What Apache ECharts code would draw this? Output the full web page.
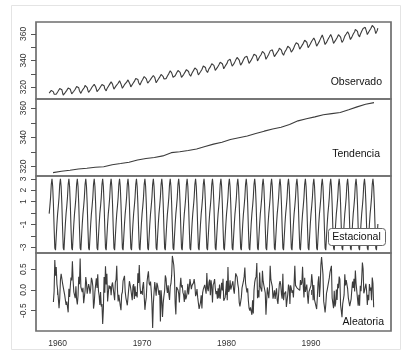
<!DOCTYPE html>
<html>
<head>
<meta charset="utf-8">
<script src="https://cdn.jsdelivr.net/npm/echarts@6/dist/echarts.min.js"></script>
<style>
  html, body { margin: 0; padding: 0; background: #fff; }
  #chart { width: 403px; height: 352px; }
</style>
</head>
<body>
<div id="chart"></div>
<script>
// ---- DATA (monthly, starting January 1959) ----
const startYear = 1959;
const monthsPerYear = 12;

const observed = [
315.42,316.31,316.50,317.56,318.13,318.00,316.39,314.65,313.68,313.18,314.66,315.43,
316.27,316.81,317.42,318.87,319.87,319.43,318.01,315.74,314.00,313.68,314.84,316.03,
316.73,317.54,318.38,319.31,320.42,319.61,318.42,316.63,314.83,315.16,315.94,316.85,
317.78,318.40,319.53,320.42,320.85,320.45,319.45,317.25,316.11,315.27,316.53,317.53,
318.58,318.92,319.70,321.22,322.08,321.31,319.58,317.61,316.05,315.83,316.91,318.20,
319.41,320.07,320.74,321.40,322.06,321.73,320.27,318.54,316.54,316.71,317.53,318.55,
319.27,320.28,320.73,321.97,322.00,321.71,321.05,318.71,317.66,317.14,318.70,319.25,
320.46,321.43,322.23,323.54,323.91,323.59,322.24,320.20,318.48,317.94,319.63,320.87,
322.17,322.34,322.88,324.25,324.83,323.93,322.38,320.76,319.10,319.24,320.56,321.80,
322.40,322.99,323.73,324.86,325.40,325.20,323.98,321.95,320.18,320.09,321.16,322.74,
323.83,324.26,325.47,326.50,327.21,326.54,325.72,323.50,322.22,321.62,322.69,323.95,
324.89,325.82,326.77,327.97,327.91,327.50,326.18,324.53,322.93,322.90,323.85,324.96,
326.01,326.51,327.01,327.62,328.76,328.40,327.20,325.27,323.20,323.40,324.63,325.85,
326.60,327.47,327.58,329.56,329.90,328.92,327.88,326.16,324.68,325.04,326.34,327.39,
328.37,329.40,330.14,331.33,332.31,331.90,330.70,329.15,327.35,327.02,327.99,328.48,
329.18,330.55,331.32,332.48,332.92,332.08,331.01,329.23,327.27,327.21,328.29,329.41,
330.23,331.25,331.87,333.14,333.80,333.43,331.73,329.90,328.40,328.17,329.32,330.59,
331.58,332.39,333.33,334.41,334.71,334.17,332.89,330.77,329.14,328.78,330.14,331.52,
332.75,333.24,334.53,335.90,336.57,336.10,334.76,332.59,331.42,330.98,332.24,333.68,
334.80,335.22,336.47,337.59,337.84,337.72,336.37,334.51,332.60,332.38,333.75,334.78,
336.05,336.59,337.79,338.71,339.30,339.12,337.56,335.92,333.75,333.70,335.12,336.56,
337.84,338.19,339.91,340.60,341.29,341.00,339.39,337.43,335.72,335.84,336.93,338.04,
339.06,340.30,341.21,342.33,342.74,342.08,340.32,338.26,336.52,336.68,338.19,339.44,
340.57,341.44,342.53,343.39,343.96,343.18,341.88,339.65,337.81,337.69,339.09,340.32,
341.20,342.35,342.93,344.77,345.58,345.14,343.81,342.21,339.69,339.82,340.98,342.82,
343.52,344.33,345.11,346.88,347.25,346.62,345.22,343.11,340.90,341.18,342.80,344.04,
344.79,345.82,347.25,348.17,348.74,348.07,346.38,344.51,342.92,342.62,344.06,345.38,
346.11,346.78,347.68,349.37,350.03,349.37,347.76,345.73,344.68,343.99,345.48,346.72,
347.84,348.29,349.23,350.80,351.66,351.07,349.33,347.92,346.27,346.18,347.64,348.78,
350.25,351.54,352.05,353.41,354.04,353.62,352.22,350.27,348.55,348.72,349.91,351.18,
352.60,352.92,353.53,355.26,355.52,354.97,353.75,351.52,349.64,349.83,351.14,352.37,
353.50,354.55,355.23,356.04,357.00,356.07,354.67,352.76,350.82,351.04,352.69,354.07,
354.59,355.63,357.03,358.48,359.22,358.12,356.06,353.92,352.05,352.11,353.64,354.89,
355.88,356.63,357.72,359.07,359.58,359.17,356.94,354.92,352.94,353.23,354.09,355.33,
356.63,357.10,358.32,359.41,360.23,359.55,357.53,355.48,353.67,353.95,355.30,356.78,
358.34,358.89,359.95,361.25,361.67,360.94,359.55,357.49,355.84,356.00,357.59,359.05,
359.98,361.03,361.66,363.48,363.82,363.30,361.94,359.50,358.11,357.80,359.61,360.74,
362.09,363.29,364.06,364.76,365.45,365.01,363.70,361.54,359.51,359.65,360.80,362.38,
363.23,364.06,364.61,366.40,366.84,365.68,364.52,362.57,360.24,360.83,362.49,364.34
];

// trend: one value per year (centred in mid-year)
const trendYears = [1959,1960,1961,1962,1963,1964,1965,1966,1967,1968,1969,1970,1971,1972,1973,1974,1975,1976,1977,1978,
                    1979,1980,1981,1982,1983,1984,1985,1986,1987,1988,1989,1990,1991,1992,1993,1994,1995,1996,1997];
const trendValues = [315.83,316.75,317.49,318.30,318.83,319.46,319.87,321.21,322.02,322.89,324.46,325.52,326.16,327.29,
                     329.51,330.08,330.99,331.99,333.73,335.34,336.68,338.52,339.76,340.96,342.61,344.25,345.73,346.98,
                     348.75,351.31,352.75,354.04,355.48,356.29,357.00,358.88,360.91,362.69,363.82];

const seasonal = [
-0.05,0.61,1.38,2.52,3.00,2.33,0.81,-1.26,-3.06,-3.25,-2.07,-0.96,
-0.05,0.61,1.38,2.52,3.00,2.33,0.81,-1.26,-3.06,-3.25,-2.07,-0.96,
-0.05,0.61,1.38,2.52,3.00,2.33,0.81,-1.26,-3.06,-3.25,-2.07,-0.96,
-0.05,0.61,1.38,2.52,3.00,2.33,0.81,-1.26,-3.06,-3.25,-2.07,-0.96,
-0.05,0.61,1.38,2.52,3.00,2.33,0.81,-1.26,-3.06,-3.25,-2.07,-0.96,
-0.05,0.61,1.38,2.52,3.00,2.33,0.81,-1.26,-3.06,-3.25,-2.07,-0.96,
-0.05,0.61,1.38,2.52,3.00,2.33,0.81,-1.26,-3.06,-3.25,-2.07,-0.96,
-0.05,0.61,1.38,2.52,3.00,2.33,0.81,-1.26,-3.06,-3.25,-2.07,-0.96,
-0.05,0.61,1.38,2.52,3.00,2.33,0.81,-1.26,-3.06,-3.25,-2.07,-0.96,
-0.05,0.61,1.38,2.52,3.00,2.33,0.81,-1.26,-3.06,-3.25,-2.07,-0.96,
-0.05,0.61,1.38,2.52,3.00,2.33,0.81,-1.26,-3.06,-3.25,-2.07,-0.96,
-0.05,0.61,1.38,2.52,3.00,2.33,0.81,-1.26,-3.06,-3.25,-2.07,-0.96,
-0.05,0.61,1.38,2.52,3.00,2.33,0.81,-1.26,-3.06,-3.25,-2.07,-0.96,
-0.05,0.61,1.38,2.52,3.00,2.33,0.81,-1.26,-3.06,-3.25,-2.07,-0.96,
-0.05,0.61,1.38,2.52,3.00,2.33,0.81,-1.26,-3.06,-3.25,-2.07,-0.96,
-0.05,0.61,1.38,2.52,3.00,2.33,0.81,-1.26,-3.06,-3.25,-2.07,-0.96,
-0.05,0.61,1.38,2.52,3.00,2.33,0.81,-1.26,-3.06,-3.25,-2.07,-0.96,
-0.05,0.61,1.38,2.52,3.00,2.33,0.81,-1.26,-3.06,-3.25,-2.07,-0.96,
-0.05,0.61,1.38,2.52,3.00,2.33,0.81,-1.26,-3.06,-3.25,-2.07,-0.96,
-0.05,0.61,1.38,2.52,3.00,2.33,0.81,-1.26,-3.06,-3.25,-2.07,-0.96,
-0.05,0.61,1.38,2.52,3.00,2.33,0.81,-1.26,-3.06,-3.25,-2.07,-0.96,
-0.05,0.61,1.38,2.52,3.00,2.33,0.81,-1.26,-3.06,-3.25,-2.07,-0.96,
-0.05,0.61,1.38,2.52,3.00,2.33,0.81,-1.26,-3.06,-3.25,-2.07,-0.96,
-0.05,0.61,1.38,2.52,3.00,2.33,0.81,-1.26,-3.06,-3.25,-2.07,-0.96,
-0.05,0.61,1.38,2.52,3.00,2.33,0.81,-1.26,-3.06,-3.25,-2.07,-0.96,
-0.05,0.61,1.38,2.52,3.00,2.33,0.81,-1.26,-3.06,-3.25,-2.07,-0.96,
-0.05,0.61,1.38,2.52,3.00,2.33,0.81,-1.26,-3.06,-3.25,-2.07,-0.96,
-0.05,0.61,1.38,2.52,3.00,2.33,0.81,-1.26,-3.06,-3.25,-2.07,-0.96,
-0.05,0.61,1.38,2.52,3.00,2.33,0.81,-1.26,-3.06,-3.25,-2.07,-0.96,
-0.05,0.61,1.38,2.52,3.00,2.33,0.81,-1.26,-3.06,-3.25,-2.07,-0.96,
-0.05,0.61,1.38,2.52,3.00,2.33,0.81,-1.26,-3.06,-3.25,-2.07,-0.96,
-0.05,0.61,1.38,2.52,3.00,2.33,0.81,-1.26,-3.06,-3.25,-2.07,-0.96,
-0.05,0.61,1.38,2.52,3.00,2.33,0.81,-1.26,-3.06,-3.25,-2.07,-0.96,
-0.05,0.61,1.38,2.52,3.00,2.33,0.81,-1.26,-3.06,-3.25,-2.07,-0.96,
-0.05,0.61,1.38,2.52,3.00,2.33,0.81,-1.26,-3.06,-3.25,-2.07,-0.96,
-0.05,0.61,1.38,2.52,3.00,2.33,0.81,-1.26,-3.06,-3.25,-2.07,-0.96,
-0.05,0.61,1.38,2.52,3.00,2.33,0.81,-1.26,-3.06,-3.25,-2.07,-0.96,
-0.05,0.61,1.38,2.52,3.00,2.33,0.81,-1.26,-3.06,-3.25,-2.07,-0.96,
-0.05,0.61,1.38,2.52,3.00,2.33,0.81,-1.26,-3.06,-3.25,-2.07,-0.96
];

const random = [
null,null,null,null,null,null,-0.29,-0.04,0.72,0.34,0.55,0.14,
0.00,-0.20,-0.44,-0.20,0.24,0.39,0.42,0.16,0.15,-0.03,-0.12,-0.10,
-0.36,-0.28,-0.27,-0.54,0.03,-0.17,0.09,0.30,0.23,0.69,0.22,-0.05,
-0.09,-0.20,0.09,-0.23,-0.35,-0.14,0.32,0.14,0.76,0.07,0.10,-0.05,
0.05,-0.32,-0.35,-0.02,0.31,0.17,-0.09,-0.05,0.14,0.07,-0.09,0.04,
0.29,0.23,0.09,-0.45,-0.32,-0.04,-0.02,0.28,0.05,0.38,-0.02,-0.14,
-0.36,-0.05,-0.40,-0.34,-0.82,-0.47,0.31,-0.07,0.57,0.13,0.39,-0.28,
-0.08,0.11,0.03,0.09,-0.13,0.11,0.18,0.15,0.16,-0.25,0.18,0.25,
0.58,0.01,-0.28,-0.12,-0.09,-0.38,-0.49,-0.11,-0.05,0.22,0.28,0.34,
-0.04,-0.19,-0.28,-0.37,-0.38,0.02,0.21,0.12,0.02,-0.01,-0.25,0.09,
0.14,-0.22,0.09,-0.15,-0.05,-0.18,0.40,0.17,0.60,0.10,-0.10,-0.03,
-0.09,0.09,0.19,0.16,-0.48,-0.30,-0.18,0.19,0.34,0.45,0.16,0.11,
0.20,-0.02,-0.34,-0.92,-0.32,-0.06,0.19,0.23,-0.14,0.17,0.11,0.13,
-0.12,-0.01,-0.76,-0.01,-0.25,-0.65,-0.32,-0.15,-0.02,0.35,0.28,0.04,
-0.07,0.11,-0.10,-0.24,0.08,0.15,0.35,0.82,0.78,0.60,0.33,-0.33,
-0.59,0.07,0.03,0.00,-0.09,-0.30,0.08,0.29,0.06,0.12,-0.06,-0.12,
-0.29,-0.01,-0.23,-0.17,-0.07,0.15,-0.11,0.05,0.26,0.14,0.02,0.11,
0.11,0.17,0.26,0.12,-0.15,-0.10,0.02,-0.18,-0.15,-0.46,-0.44,-0.30,
-0.13,-0.45,-0.07,0.02,0.06,0.12,0.15,-0.09,0.41,0.03,-0.03,0.18,
0.25,-0.13,0.23,0.07,-0.30,0.12,0.17,0.26,0.04,-0.10,-0.03,-0.21,
0.04,-0.20,0.13,-0.21,-0.21,0.17,-0.01,0.27,-0.26,-0.26,-0.18,0.00,
0.22,-0.25,0.55,-0.05,0.00,0.23,0.01,0.02,0.00,0.21,0.01,-0.09,
-0.08,0.40,0.44,0.31,0.14,0.04,-0.30,-0.40,-0.44,-0.18,0.05,0.09,
0.21,0.32,0.54,0.16,0.15,-0.06,0.04,-0.26,-0.44,-0.50,-0.42,-0.43,
-0.60,-0.25,-0.57,-0.01,0.18,0.27,0.32,0.65,-0.20,-0.01,-0.18,0.42,
0.08,0.09,-0.04,0.46,0.21,0.11,0.10,-0.07,-0.60,-0.25,0.06,0.08,
-0.20,0.04,0.58,0.24,0.20,0.08,-0.21,-0.12,-0.01,-0.22,-0.07,0.04,
-0.24,-0.34,-0.31,0.14,0.21,0.12,-0.10,-0.21,0.39,-0.25,-0.10,-0.11,
-0.04,-0.41,-0.38,-0.10,0.13,0.07,-0.34,0.11,0.04,-0.07,-0.01,-0.18,
0.17,0.58,0.11,0.11,0.05,0.09,0.03,0.03,-0.01,0.24,0.12,0.17,
0.56,0.10,-0.18,0.29,-0.05,-0.05,0.13,-0.14,-0.33,-0.05,-0.03,-0.01,
0.11,0.38,0.19,-0.25,0.12,-0.24,-0.24,-0.20,-0.46,-0.17,0.18,0.33,
-0.17,0.08,0.60,0.79,0.80,0.37,-0.27,-0.40,-0.54,-0.35,-0.08,0.00,
0.02,0.03,0.29,0.43,0.39,0.58,-0.19,-0.20,-0.44,-0.02,-0.40,-0.32,
0.01,-0.24,0.15,0.04,0.32,0.26,-0.36,-0.50,-0.66,-0.34,-0.34,-0.12,
0.38,0.11,0.24,0.25,0.03,-0.19,-0.23,-0.39,-0.41,-0.22,0.01,0.20,
0.05,0.27,-0.04,0.47,0.16,0.14,0.14,-0.38,-0.12,-0.38,0.10,-0.03,
0.27,0.66,0.51,-0.08,-0.02,0.07,0.15,-0.03,-0.36,-0.12,-0.25,0.14,
-0.02,0.06,-0.25,0.30,0.16,-0.42,null,null,null,null,null,null
];

const panelNames = ['Observado', 'Tendencia', 'Estacional', 'Aleatoria'];
const xTickYears = [1960, 1970, 1980, 1990];
const yTicks = [[320,330,340,350,360],[320,330,340,350,360],[-3,-2,-1,0,1,2,3],[-0.5,0,0.5]];
const yLabels = [[320,340,360],[320,340,360],[-3,-1,1,2,3],[-0.5,0,0.5]];
const yRanges = [[311.03,368.99],[313.5,366.3],[-3.50,3.25],[-0.99,0.89]];
const xRange = [1957.44, 1999.47];

// ---- build ----
const monthly = arr => arr.map((v, i) => [startYear + i / monthsPerYear, v]);
const trendData = trendValues.map((v, i) => [trendYears[i] + 5.5 / monthsPerYear, v]);
const seriesData = [monthly(observed), trendData, monthly(seasonal), monthly(random)];

const FONT = 'Liberation Sans, Arial, sans-serif';
const tops = [22, 99, 176, 253];
const heights = [77, 77, 77, 78];

const grids = tops.map((t, i) => ({
  left: 36, right: 12, top: t, height: heights[i],
  show: true, borderColor: '#6e6e6e', borderWidth: 1.7, backgroundColor: 'transparent'
}));

const xAxes = tops.map((t, i) => {
  const last = i === 3;
  return {
    type: 'value', gridIndex: i, min: xRange[0], max: xRange[1],
    axisLine: { show: false }, splitLine: { show: false },
    axisTick: { show: last, length: 5, lineStyle: { color: '#555' }, customValues: xTickYears },
    axisLabel: { show: last, fontSize: 8.5, color: '#333', fontFamily: FONT, margin: 8,
                 customValues: xTickYears, formatter: v => String(v) }
  };
});

const fmt = [v => String(v), v => String(v), v => String(v), v => v.toFixed(1)];
const yAxes = tops.map((t, i) => ({
  type: 'value', gridIndex: i, min: yRanges[i][0], max: yRanges[i][1],
  axisLine: { show: false }, splitLine: { show: false },
  axisTick: { show: true, length: 5, lineStyle: { color: '#555' }, customValues: yTicks[i] },
  axisLabel: { show: true, rotate: 90, fontSize: 8.5, color: '#333', fontFamily: FONT, margin: 8,
               customValues: yLabels[i], formatter: fmt[i] }
}));

const series = seriesData.map((d, i) => ({
  type: 'line', xAxisIndex: i, yAxisIndex: i, data: d,
  showSymbol: false, symbol: 'none', connectNulls: false, clip: true,
  lineStyle: { color: '#3c3c3c', width: 1.1 }, animation: false, silent: true
}));

const textStyleBase = { fontSize: 10.5, fontFamily: FONT, fill: '#111' };
const graphic = [
  { type: 'rect', shape: { x: 11.5, y: 5.5, width: 389, height: 344 }, style: { fill: 'none', stroke: '#e4e4e4', lineWidth: 1 }, z: -1 },
  { type: 'text', x: 382, y: 82, style: Object.assign({ text: panelNames[0], align: 'right', verticalAlign: 'middle' }, textStyleBase), z: 100 },
  { type: 'text', x: 380, y: 154, style: Object.assign({ text: panelNames[1], align: 'right', verticalAlign: 'middle' }, textStyleBase), z: 100 },
  { type: 'rect', shape: { x: 328.5, y: 228.5, width: 57, height: 17, r: 3 }, style: { fill: '#fff', stroke: '#666', lineWidth: 1 }, z: 99 },
  { type: 'text', x: 356.5, y: 237, style: Object.assign({ text: panelNames[2], align: 'center', verticalAlign: 'middle' }, textStyleBase), z: 100 },
  { type: 'text', x: 384, y: 322, style: Object.assign({ text: panelNames[3], align: 'right', verticalAlign: 'middle' }, textStyleBase), z: 100 }
];

const chart = echarts.init(document.getElementById('chart'), null, { renderer: 'canvas' });
chart.setOption({
  animation: false,
  backgroundColor: '#fff',
  grid: grids, xAxis: xAxes, yAxis: yAxes, series: series, graphic: graphic
});
</script>
</body>
</html>
